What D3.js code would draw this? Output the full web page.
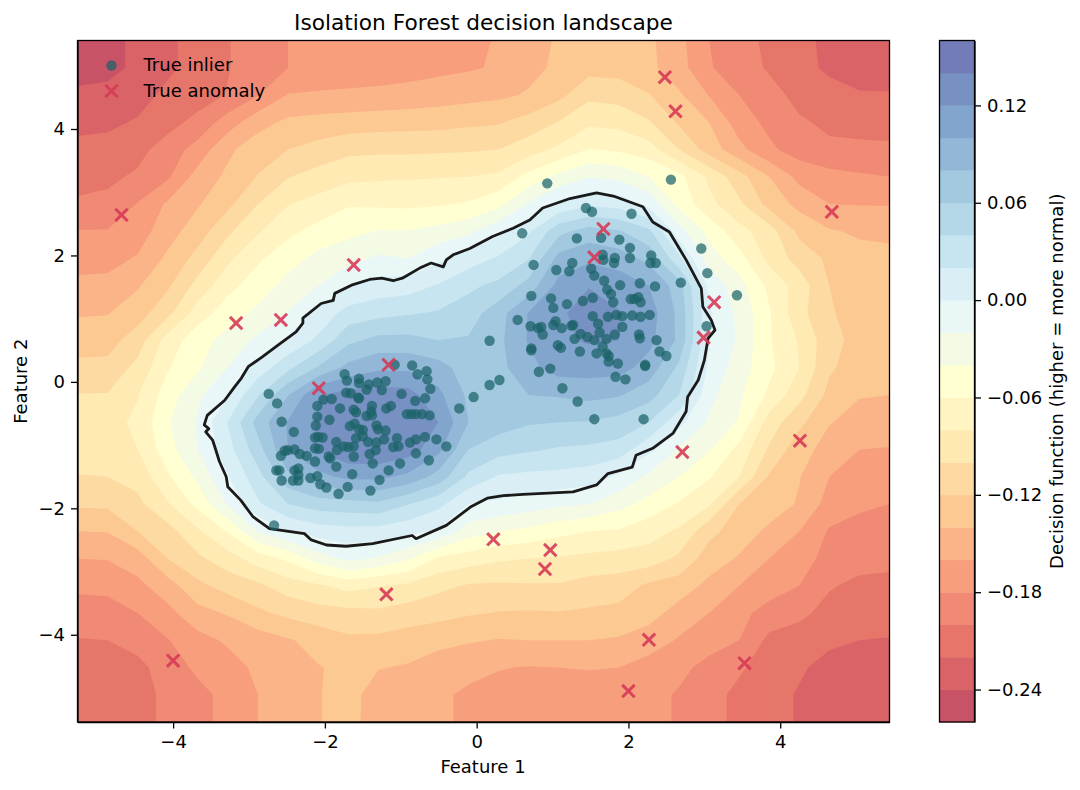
<!DOCTYPE html>
<html>
<head>
<meta charset="utf-8">
<script src="https://cdnjs.cloudflare.com/ajax/libs/d3/7.8.5/d3.min.js"></script>
<style>
body { margin: 0; background: #fff; }
text { font-family: "DejaVu Sans", sans-serif; fill: #000; }
</style>
</head>
<body>
<svg id="chart" width="1080" height="790"></svg>
<script>
// decision function, in units of 0.01, top row first
var decisionRows = [
[-25,-24.7,-23.5,-22.4,-21.2,-20.1,-19,-18,-17.7,-17.4,-17.2,-16.9,-16.6,-16.3,-15.9,-14.7,-13.8,-13.4,-13.3,-13.6,-15.4,-18,-19.3,-20.4,-21.4,-22.5,-23,-23.4],
[-25,-24.7,-23.5,-22.4,-21.2,-20.1,-19,-18,-17.6,-17.3,-17,-16.8,-16.5,-16.2,-15.8,-14.6,-13.6,-12.7,-12.8,-13.5,-15.2,-17.8,-19.2,-20.2,-21.3,-22.4,-23,-23.4],
[-23.5,-23.3,-22.8,-21.5,-20.9,-19.9,-18.1,-15.9,-15.7,-15.6,-15.5,-15.3,-15,-14.7,-14.4,-13.8,-12.6,-10.5,-10.8,-11.9,-13.7,-16.1,-18,-19.4,-20.5,-21.2,-21.8,-21.8],
[-22.5,-22.4,-21.8,-20.7,-19.4,-17,-14.7,-13.6,-13.3,-13.1,-12.9,-12.8,-12.7,-12.4,-12.2,-11.2,-9.9,-8.4,-8.6,-9.8,-12.3,-14,-17,-18.5,-19.8,-20.3,-20.5,-20.7],
[-21.5,-21.3,-20.6,-19.1,-17.2,-14.4,-12.9,-12,-11.3,-10.5,-10.4,-10.4,-10.3,-10.2,-10,-8.9,-7.6,-5.9,-6.3,-7.1,-10,-12.9,-15.4,-17.6,-18.9,-19.7,-19.7,-19.7],
[-20.7,-20.4,-19.7,-18.3,-15.2,-13.6,-11.9,-10.1,-9.2,-8.5,-8.3,-8.2,-8.1,-8,-7.6,-5.3,-3.4,-2.1,-2.5,-4,-5.4,-8.4,-11.2,-14,-16.6,-17.3,-17.7,-18],
[-19.7,-19.5,-17.9,-15.7,-14.2,-12.5,-10,-8.1,-7.3,-6.2,-6.3,-6.4,-6.2,-5.8,-4.6,-1.8,0.4,1.6,1.2,-0.6,-4.6,-7.4,-9.6,-12.7,-14.6,-16,-16.1,-16.1],
[-17.9,-17.9,-17,-14.8,-13,-10.4,-8.2,-6.5,-5.3,-4.5,-3.9,-3.9,-3.3,-2.5,-0.5,1.7,5.4,6.9,6.2,4.5,-1.2,-4.6,-7.3,-9.1,-12.5,-13.8,-14.3,-14.4],
[-16.8,-16.7,-15.8,-13.6,-11.3,-8.4,-6.3,-4.8,-3.4,-2.7,-1.7,-2,-0.4,1,2.3,3.9,8.7,9.6,9,7.4,2.5,-3,-5.2,-8.6,-10.8,-12.4,-13.3,-13.5],
[-15.5,-15.4,-14.2,-12.3,-9.3,-6.6,-5,-3.3,-2,-0.2,0.8,1.1,2.2,3.6,4.5,6.8,10.7,11.9,11.3,10,7,-0.5,-3.2,-6.5,-8.9,-12,-12.6,-12.9],
[-14.2,-14.1,-12.9,-10.6,-7,-5,-3.5,-1.9,0.6,2.8,3.4,3.8,4.2,5,7.2,10.1,11.6,13,12.1,11,7.5,0.3,-2.5,-5.8,-9.3,-11.9,-12.4,-12.6],
[-12.9,-12.8,-11,-7.1,-4.8,-3.2,-1.6,0.3,2.4,5.5,6.6,6.6,6,6.2,7.5,10.2,11.7,12.2,12,10.6,7.6,0,-2.3,-5.8,-8.2,-11.3,-12.7,-13],
[-11.5,-11.4,-9.4,-6.2,-4.3,-2,0.8,3.5,6.2,8.6,9.6,9.6,8.8,7,7.4,9.4,10.9,10.9,10.8,9.2,5.6,-0.4,-3,-5.5,-8,-11.7,-13,-13.3],
[-9.9,-9.9,-8.1,-5,-2.4,0,3.8,7.9,11.9,12.8,13,12.8,10.5,7.6,7.5,8,8.2,8.6,8.2,6.8,4,-1.4,-3.6,-6.4,-9.3,-12.6,-13.9,-14],
[-8.8,-8.7,-7.6,-4.2,-1.8,2.1,6.8,10.2,12.2,13.7,13.9,13.7,12,8,7,6.2,6,5.9,5.3,4,0.6,-2.3,-4.2,-8.9,-11.5,-13.9,-14.6,-15],
[-9,-8.9,-8,-4.8,-2,1.2,5.2,10,12.2,13.6,13.8,13,10.6,6,4.8,4.3,3.8,3.6,3.2,0.5,-2.2,-3.8,-6.6,-10.3,-13.2,-14.8,-16,-16.1],
[-10.1,-10,-9.3,-6.3,-3.5,-0.1,3.3,7.5,9.4,10.5,10.5,9.5,7.2,3.6,1.8,1.5,1.4,1,-0.4,-2.4,-4,-5.8,-8,-12.2,-13.9,-16,-16.6,-16.8],
[-11.7,-11.6,-10.5,-8.2,-5.4,-1.8,1.7,4,5,5.3,5.6,4.1,2.6,0,-0.4,-1,-1.6,-2,-3.3,-4.7,-6.2,-7.7,-12,-13,-14.2,-16.8,-17.8,-18],
[-14,-13.9,-12,-10.8,-8.3,-5.8,-1.9,0,1,1.3,1.2,0.6,-0.3,-3,-4,-4.5,-5.4,-6,-6.2,-7.2,-8.3,-11.4,-13,-14.4,-16,-18.2,-18.4,-18.5],
[-16,-15.9,-15,-12,-10.4,-8.9,-7,-5.6,-3,-1.5,-2.2,-3.8,-6.3,-7,-7.7,-8,-8.2,-8.5,-8.8,-8.9,-10.4,-13,-14.2,-16,-17,-18.8,-19.2,-19.4],
[-17.6,-17.5,-16.5,-14.9,-12.5,-11.2,-10.4,-9,-8.3,-7.3,-7.9,-8.4,-9.5,-10.2,-10.3,-10.2,-10.2,-10.8,-11,-12.4,-13,-14.5,-16,-17,-18,-19.8,-20.5,-20.6],
[-18.9,-18.8,-18,-16.6,-14.7,-13.8,-12.4,-11.5,-10.8,-10.6,-10.4,-11,-11.3,-11.8,-12.1,-12.2,-12.1,-12.3,-12.6,-13.2,-14.8,-16,-17.4,-18.8,-19.5,-20.7,-21.1,-21.2],
[-20.1,-20,-19.2,-18.1,-16.7,-15.7,-15,-14.2,-13.3,-12.4,-12.5,-12.9,-13.4,-13.8,-14.1,-14,-14,-14,-14.2,-15,-16.2,-17.2,-18,-20.5,-21,-21.6,-22,-22.1],
[-21,-21,-20.6,-19,-17.6,-16.8,-15.6,-15.2,-14.1,-13.6,-13.9,-14.2,-15,-15.5,-15.9,-16.1,-16,-15.9,-16,-16.8,-17.5,-18.6,-19.7,-21,-21.7,-22.7,-23,-23],
[-21.4,-21.3,-20.8,-19.5,-18.6,-17.4,-16,-15,-14.1,-13.3,-14.9,-15.3,-15.7,-16.3,-16.7,-16.8,-16.8,-16.9,-17,-17.4,-18.2,-19.3,-20.5,-21.2,-22.2,-23,-23.3,-23.4],
[-21.5,-21.4,-20.8,-19.5,-18.6,-17.4,-16,-15,-14.1,-13.3,-15,-15.3,-15.7,-16.3,-16.7,-16.8,-16.8,-16.9,-17,-17.4,-18.2,-19.3,-20.5,-21.2,-22.2,-23,-23.3,-23.4]
];

var levels = [-0.26,-0.24,-0.22,-0.20,-0.18,-0.16,-0.14,-0.12,-0.10,-0.08,-0.06,-0.04,-0.02,0,0.02,0.04,0.06,0.08,0.10,0.12,0.14,0.16];
var colorStops = ['#a50026','#d73027','#f46d43','#fdae61','#fee090','#ffffbf','#e0f3f8','#abd9e9','#74add1','#4575b4','#313695'];
var xTicks = [-4,-2,0,2,4];
var yTicks = [-4,-2,0,2,4];
var barTicks = [-0.24,-0.18,-0.12,-0.06,0,0.06,0.12];

// decision boundary
var boundaryX = [-3.59,-3.55,-3.32,-3.19,-3.10,-3.01,-2.82,-2.64,-2.38,-2.29,-2.29,-2.05,-1.89,-1.87,-1.65,-1.41,-1.25,-1.10,-0.98,-0.75,-0.60,-0.44,-0.40,-0.31,-0.09,0.21,0.48,0.70,0.87,1.23,1.58,1.80,2.19,2.32,2.54,2.76,2.96,2.98,3.09,3.14,3.05,3.00,2.92,2.78,2.76,2.59,2.32,2.10,2.05,1.73,1.58,1.27,0.61,0.35,0.14,-0.07,-0.40,-0.80,-0.85,-1.37,-1.72,-1.98,-2.18,-2.27,-2.73,-2.95,-3.11,-3.28,-3.30,-3.39,-3.45,-3.48,-3.57,-3.53];
var boundaryY = [-0.68,-0.53,-0.29,-0.08,0.06,0.24,0.40,0.56,0.79,0.93,1.01,1.24,1.29,1.40,1.53,1.62,1.64,1.60,1.64,1.80,1.88,1.82,1.93,2.01,2.11,2.30,2.43,2.56,2.75,2.90,2.99,2.94,2.77,2.53,2.37,1.93,1.48,1.19,0.98,0.82,0.69,0.34,0.03,-0.24,-0.47,-0.81,-1.05,-1.16,-1.35,-1.45,-1.63,-1.74,-1.78,-1.80,-1.84,-1.97,-2.27,-2.48,-2.43,-2.56,-2.60,-2.58,-2.50,-2.40,-2.32,-2.13,-1.87,-1.66,-1.50,-1.26,-1.03,-0.92,-0.79,-0.74];

var inlierX = [-2.74,-2.63,-2.57,-2.41,-1.74,-1.71,-1.55,-1.55,-1.45,-1.42,-1.31,-1.20,-1.25,-1.08,-0.85,-0.78,-0.66,-0.65,-0.61,-0.68,-0.81,-0.99,-1.72,-1.66,-1.56,-1.55,-2.02,-1.91,-2.10,-1.80,-1.62,-1.59,-1.38,-1.39,-1.45,-1.38,-1.19,-1.13,-2.10,-1.94,-2.12,-1.67,-1.61,-1.55,-1.50,-1.32,-1.30,-1.20,-0.92,-0.86,-0.80,-0.72,-0.62,-2.13,-2.09,-2.03,-1.85,-1.75,-1.69,-1.62,-1.59,-1.50,-1.43,-1.32,-1.22,-1.05,-1.10,-1.03,-0.88,-0.80,-0.68,-0.53,-0.40,-0.80,-0.63,-2.13,-2.08,-1.84,-1.62,-1.33,-1.41,-1.95,-1.93,-2.13,-2.24,-2.33,-2.40,-2.49,-2.53,-2.58,-2.64,-2.60,-2.40,-2.35,-2.57,-2.42,-2.35,-2.35,-2.19,-2.10,-2.06,-1.98,-1.85,-1.64,-1.37,-1.16,-1.01,-1.28,-1.70,-1.82,-1.40,-0.23,-0.04,0.17,0.30,0.17,-2.67,0.93,2.56,
  1.44,1.52,2.04,0.60,1.32,1.64,1.88,2.02,2.96,2.30,2.29,2.36,2.02,1.82,1.81,1.66,1.67,1.26,1.22,1.05,0.75,1.51,1.55,1.68,1.89,2.15,2.35,2.69,3.04,3.43,1.72,1.77,1.80,0.72,0.98,1.01,1.19,1.40,1.53,2.03,2.08,2.13,2.16,0.54,0.71,0.81,0.85,0.87,1.01,1.04,1.12,1.25,1.27,1.53,1.60,1.73,1.84,1.92,2.05,2.16,2.28,1.92,1.62,1.37,1.46,1.29,1.55,1.71,1.82,2.14,2.15,2.37,1.07,1.11,0.72,0.72,1.36,1.58,1.66,1.71,1.74,1.74,1.86,2.41,2.50,2.22,0.97,0.82,3.03,1.13,1.33,1.55,2.20,1.83,1.96,2.22];
var inlierY = [-0.19,-0.34,-0.63,-0.79,0.12,0.02,0.05,-0.02,-0.12,-0.04,-0.01,0.01,-0.13,0.27,0.26,0.12,0.17,0.04,-0.11,-0.26,-0.30,-0.19,-0.17,-0.18,-0.25,-0.26,-0.28,-0.27,-0.38,-0.42,-0.44,-0.48,-0.38,-0.47,-0.54,-0.53,-0.42,-0.38,-0.55,-0.60,-0.69,-0.70,-0.66,-0.75,-0.76,-0.69,-0.75,-0.77,-0.51,-0.51,-0.51,-0.51,-0.53,-0.88,-0.87,-0.88,-0.95,-1.02,-1.03,-1.02,-0.89,-0.86,-0.95,-0.96,-0.91,-0.89,-1.03,-1.02,-0.96,-0.91,-0.87,-0.91,-1.02,-1.13,-1.24,-1.05,-1.06,-1.08,-1.18,-1.08,-1.14,-1.18,-1.21,-1.26,-1.17,-1.14,-1.07,-1.08,-1.09,-1.17,-1.40,-1.40,-1.40,-1.37,-1.56,-1.56,-1.47,-1.56,-1.52,-1.49,-1.62,-1.67,-1.34,-1.46,-1.29,-1.40,-1.29,-1.55,-1.66,-1.77,-1.72,-0.42,-0.24,-0.05,0.03,0.65,-2.27,3.14,3.20,
  2.75,2.69,2.66,2.35,2.27,2.28,2.25,2.12,2.11,2.00,1.88,1.88,1.96,1.96,1.88,2.01,1.93,1.88,1.75,1.77,1.85,1.79,1.68,1.60,1.53,1.56,1.51,1.57,1.72,1.37,1.46,1.39,1.26,1.36,1.32,1.17,1.23,1.28,1.33,1.31,1.31,1.34,1.26,0.98,0.88,0.85,0.87,0.75,0.90,0.96,0.85,0.89,0.90,1.04,0.92,1.03,1.06,1.04,1.05,1.03,1.06,0.87,0.78,0.76,0.71,0.68,0.66,0.68,0.75,0.75,0.69,0.66,0.58,0.54,0.53,0.50,0.48,0.45,0.56,0.45,0.41,0.32,0.29,0.48,0.41,0.27,0.21,0.16,0.88,-0.10,-0.31,-0.59,-0.59,0.08,0.04,0.25];

var anomalyX = [2.48,2.62,-4.68,4.68,1.67,1.55,-1.62,-3.17,-2.58,-1.16,-2.08,3.13,2.99,4.26,2.71,0.22,0.97,0.90,-1.19,2.27,-4.00,3.53,2.00];
var anomalyY = [4.82,4.28,2.64,2.69,2.42,1.97,1.85,0.93,0.98,0.27,-0.10,1.26,0.70,-0.93,-1.11,-2.49,-2.66,-2.96,-3.36,-4.08,-4.41,-4.45,-4.89];

var svg = d3.select('#chart');
var left = 77.5, right = 889.5, top_ = 40.5, bottom = 722;
var barLeft = 939.5, barRight = 974.5;

var x = d3.scaleLinear().domain([-5.26, 5.44]).range([left, right]);
var y = d3.scaleLinear().domain([-5.38, 5.40]).range([bottom, top_]);
var barY = d3.scaleLinear().domain([-0.26, 0.16]).range([bottom, top_]);

var stopDomain = colorStops.map(function(c, i) {
    return -0.26 + 0.42 * i / (colorStops.length - 1);
});
var color = d3.scaleLinear().domain(stopDomain).range(colorStops);

var nx = decisionRows[0].length, ny = decisionRows.length;
var values = [];
decisionRows.forEach(function(row) {
    row.forEach(function(v) { values.push(v / 100); });
});

// grid index -> data coordinates, the outer half cell gets clipped
var gx = d3.scaleLinear().domain([0.5, nx - 0.5]).range(x.domain());
var gy = d3.scaleLinear().domain([0.5, ny - 0.5]).range(y.domain().slice().reverse());
var contourPath = d3.geoPath(d3.geoTransform({
    point: function(a, b) { this.stream.point(x(gx(a)), y(gy(b))); }
}));

svg.append('clipPath').attr('id', 'plot-clip').append('rect')
    .attr('x', left).attr('y', top_)
    .attr('width', right - left).attr('height', bottom - top_);

var thresholds = levels.slice(0, -1);
var bands = d3.contours().size([nx, ny]).thresholds(thresholds)(values);

var plot = svg.append('g').attr('clip-path', 'url(#plot-clip)');
// nested fills are opaque, the alpha goes on the whole group
plot.append('g').attr('opacity', 0.7)
    .selectAll('path').data(bands).join('path')
    .attr('d', contourPath)
    .attr('fill', function(d) { return color(d.value + 0.01); });

var boundary = d3.line()
    .x(function(d) { return x(d[0]); })
    .y(function(d) { return y(d[1]); })
    .curve(d3.curveLinearClosed);

plot.append('path')
    .attr('d', boundary(boundaryX.map(function(v, i) { return [v, boundaryY[i]]; })))
    .attr('fill', 'none')
    .attr('stroke', '#1a1a1a')
    .attr('stroke-width', 2.8)
    .attr('stroke-linejoin', 'round');

plot.selectAll('circle.inlier').data(inlierX).join('circle')
    .attr('class', 'inlier')
    .attr('cx', function(d) { return x(d); })
    .attr('cy', function(d, i) { return y(inlierY[i]); })
    .attr('r', 5.2)
    .attr('fill', '#1a6268')
    .attr('opacity', 0.72);

function cross(sel, cx, cy) {
    var s = 6.2;
    sel.append('path')
        .attr('d', 'M' + (cx - s) + ',' + (cy - s) + 'L' + (cx + s) + ',' + (cy + s) +
                   'M' + (cx - s) + ',' + (cy + s) + 'L' + (cx + s) + ',' + (cy - s))
        .attr('stroke', '#d63a56')
        .attr('stroke-width', 3)
        .attr('fill', 'none')
        .attr('opacity', 0.9);
}

anomalyX.forEach(function(d, i) {
    cross(plot, x(d), y(anomalyY[i]));
});

// legend
svg.append('circle')
    .attr('cx', 111.5).attr('cy', 65.5).attr('r', 5.2)
    .attr('fill', '#1a6268').attr('opacity', 0.72);
cross(svg, 111.5, 91);
svg.append('text').attr('x', 143.5).attr('y', 71).style('font-size', '18px').text('True inlier');
svg.append('text').attr('x', 143.5).attr('y', 97).style('font-size', '18px').text('True anomaly');

// axes
function styleAxis(g) {
    g.selectAll('text').style('font-size', '18px').style('font-family', '"DejaVu Sans"');
    g.selectAll('line,path').attr('stroke', '#000').attr('stroke-width', 1.3);
}

svg.append('g').attr('transform', 'translate(0,' + bottom + ')')
    .call(d3.axisBottom(x).tickValues(xTicks).tickSize(6.5).tickPadding(7).tickSizeOuter(0).tickFormat(d3.format('d')))
    .call(styleAxis);
svg.append('g').attr('transform', 'translate(' + left + ',0)')
    .call(d3.axisLeft(y).tickValues(yTicks).tickSize(6.5).tickPadding(6).tickSizeOuter(0).tickFormat(d3.format('d')))
    .call(styleAxis);

svg.append('rect')
    .attr('x', left).attr('y', top_)
    .attr('width', right - left).attr('height', bottom - top_)
    .attr('fill', 'none').attr('stroke', '#000').attr('stroke-width', 1.3);

svg.append('text')
    .attr('x', (left + right) / 2).attr('y', 30)
    .attr('text-anchor', 'middle').style('font-size', '21.7px')
    .text('Isolation Forest decision landscape');
svg.append('text')
    .attr('x', (left + right) / 2 - 0.5).attr('y', 773)
    .attr('text-anchor', 'middle').style('font-size', '18px')
    .text('Feature 1');
svg.append('text')
    .attr('transform', 'translate(26.5,' + (top_ + bottom) / 2 + ') rotate(-90)')
    .attr('text-anchor', 'middle').style('font-size', '18px')
    .text('Feature 2');

// colorbar
svg.append('g').attr('opacity', 0.7)
    .selectAll('rect').data(thresholds).join('rect')
    .attr('x', barLeft)
    .attr('width', barRight - barLeft)
    .attr('y', function(d) { return barY(d + 0.02); })
    .attr('height', function(d) { return barY(d) - barY(d + 0.02) + 0.4; })
    .attr('fill', function(d) { return color(d + 0.01); });

svg.append('g').attr('transform', 'translate(' + barRight + ',0)')
    .call(d3.axisRight(barY).tickValues(barTicks).tickSize(6.5).tickPadding(6).tickSizeOuter(0).tickFormat(d3.format('.2f')))
    .call(styleAxis);

svg.append('rect')
    .attr('x', barLeft).attr('y', top_)
    .attr('width', barRight - barLeft).attr('height', bottom - top_)
    .attr('fill', 'none').attr('stroke', '#000').attr('stroke-width', 1.3);

svg.append('text')
    .attr('transform', 'translate(1063,' + (top_ + bottom) / 2 + ') rotate(-90)')
    .attr('text-anchor', 'middle').style('font-size', '18px')
    .text('Decision function (higher = more normal)');
</script>
</body>
</html>
